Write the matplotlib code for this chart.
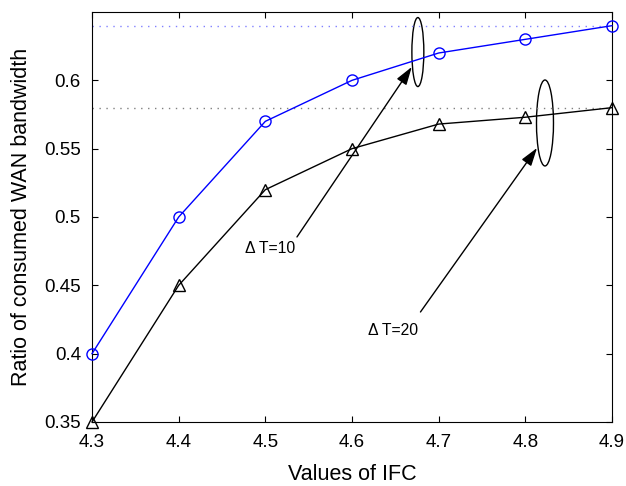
import matplotlib
matplotlib.use('Agg')
import matplotlib.pyplot as plt
from matplotlib.patches import Ellipse

plt.rcParams['font.family'] = ['Liberation Sans', 'DejaVu Sans']

# data
ifc = [4.3, 4.4, 4.5, 4.6, 4.7, 4.8, 4.9]
ratio_t10 = [0.40, 0.50, 0.57, 0.60, 0.62, 0.63, 0.64]
ratio_t20 = [0.35, 0.45, 0.52, 0.55, 0.568, 0.573, 0.58]
sat_t10 = 0.64
sat_t20 = 0.58

fig = plt.figure(figsize=(6.26, 4.86), dpi=100)
ax = fig.add_axes([0.147, 0.1317, 0.8306, 0.8436])

ax.axhline(sat_t10, color='#8080ff', linestyle=(0, (1, 4)), linewidth=1)
ax.axhline(sat_t20, color='#808080', linestyle=(0, (1, 4)), linewidth=1)

ax.plot(ifc, ratio_t10, color='blue', marker='o', markersize=8,
        markerfacecolor='none', linewidth=1, clip_on=False, zorder=3)
ax.plot(ifc, ratio_t20, color='black', marker='^', markersize=8,
        markerfacecolor='none', linewidth=1, clip_on=False, zorder=3)

# ellipses marking the two curves
ax.add_patch(Ellipse((4.676, 0.6207), 0.0138, 0.0505, fill=False,
                     edgecolor='black', linewidth=1))
ax.add_patch(Ellipse((4.8227, 0.5688), 0.0196, 0.0629, fill=False,
                     edgecolor='black', linewidth=1))

arrow = dict(arrowstyle='-|>,head_length=1.1,head_width=0.35',
             color='black', linewidth=1, shrinkA=0, shrinkB=0)
ax.annotate('', xy=(4.669, 0.6098), xytext=(4.5365, 0.4854), arrowprops=arrow)
ax.annotate('', xy=(4.8135, 0.5505), xytext=(4.679, 0.4305), arrowprops=arrow)
ax.text(4.4765, 0.4773, '\u0394 T=10', fontsize=11.3, va='center', ha='left')
ax.text(4.6185, 0.4173, '\u0394 T=20', fontsize=11.3, va='center', ha='left')

ax.set_xlim(4.3, 4.9)
ax.set_ylim(0.35, 0.65)
ax.set_xticks(ifc)
ax.set_xticklabels(['4.3', '4.4', '4.5', '4.6', '4.7', '4.8', '4.9'])
ax.set_yticks([0.35, 0.4, 0.45, 0.5, 0.55, 0.6])
ax.set_yticklabels(['0.35', '0.4', '0.45', '0.5', '0.55', '0.6'])
ax.tick_params(direction='in', labelsize=13.5, length=4, top=True, right=True)
ax.tick_params(axis='x', pad=9)
ax.tick_params(axis='y', pad=8)
ax.set_xlabel('Values of IFC', fontsize=15.5, labelpad=9)
ax.set_ylabel('Ratio of consumed WAN bandwidth', fontsize=15.5, labelpad=9)

fig.savefig('out.png', dpi=100)
